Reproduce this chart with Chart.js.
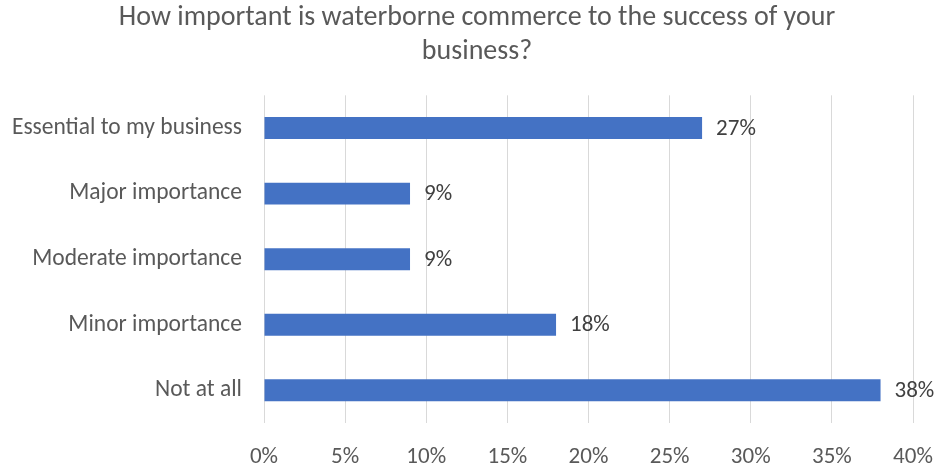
<!DOCTYPE html>
<html>
<head>
<meta charset="utf-8">
<script src="https://cdn.jsdelivr.net/npm/chart.js@4"></script>
<style>
  html, body { margin: 0; padding: 0; background: #fff; }
  #wrap { width: 938px; height: 466px; }
</style>
</head>
<body>
<div id="wrap"><canvas id="chart"></canvas></div>
<script>
// survey answers, top to bottom
const categories = ["Essential to my business", "Major importance", "Moderate importance", "Minor importance", "Not at all"];
const shares = [27, 9, 9, 18, 38];
const titleLines = ["How important is waterborne commerce to the success of your", "business?"];

const FONT = "Calibri, Carlito, Lato, sans-serif";

// percentage label just right of each bar
const barLabels = {
  id: 'barLabels',
  afterDatasetsDraw(chart) {
    const c = chart.ctx;
    const meta = chart.getDatasetMeta(0);
    c.save();
    c.font = "23px " + FONT;
    c.fillStyle = "#404040";
    c.textBaseline = "middle";
    c.textAlign = "left";
    meta.data.forEach((bar, i) => {
      c.fillText(shares[i] + "%", bar.x + 14, bar.y + 1);
    });
    c.restore();
  }
};

new Chart(document.getElementById('chart'), {
  type: 'bar',
  data: {
    labels: categories,
    datasets: [{
      data: shares,
      backgroundColor: '#4472C4',
      barPercentage: 0.67,
      categoryPercentage: 0.5
    }]
  },
  options: {
    indexAxis: 'y',
    responsive: true,
    maintainAspectRatio: false,
    animation: false,
    // negative right padding pushes the title centre a bit to the right
    layout: { padding: { left: 0, right: -16, top: 0, bottom: 0 } },
    plugins: {
      legend: { display: false },
      tooltip: { enabled: false },
      title: {
        display: true,
        text: titleLines,
        color: '#595959',
        font: { family: FONT, size: 28, weight: 'normal', lineHeight: 1.22 },
        padding: { top: 1, bottom: 26 }
      }
    },
    scales: {
      x: {
        min: 0,
        max: 40,
        ticks: {
          stepSize: 5,
          color: '#595959',
          font: { family: FONT, size: 23 },
          padding: 20,
          callback: v => v + '%'
        },
        grid: { color: '#d9d9d9', lineWidth: 1, drawTicks: false },
        border: { display: false },
        afterFit: s => { s.height = 43; s.paddingLeft = 0; s.paddingRight = 25; }
      },
      y: {
        ticks: {
          color: '#595959',
          font: { family: FONT, size: 23.5 },
          padding: 22
        },
        grid: { display: false, drawTicks: false },
        border: { display: false },
        afterFit: s => { s.width = 264; }
      }
    }
  },
  plugins: [barLabels]
});
</script>
</body>
</html>
